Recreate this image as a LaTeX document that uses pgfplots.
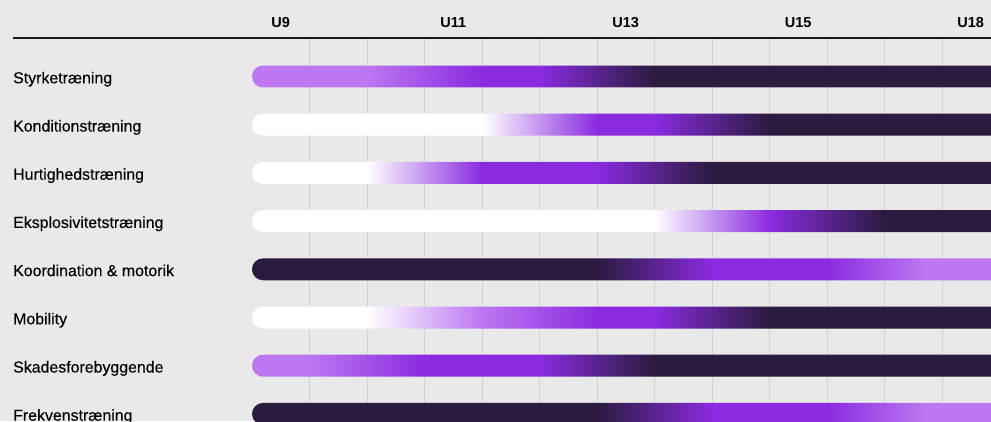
\documentclass[border=0pt]{standalone}
\usepackage{pgfplots}
\pgfplotsset{compat=1.18}
\usepackage{fontspec}
\setmainfont{Liberation Sans}
\newfontfamily\labelfont{Liberation Sans}[FakeBold=0.25]
\definecolor{bg}{HTML}{E9E9E9}
\definecolor{dk}{HTML}{2A1B3F}
\definecolor{pu}{HTML}{8A2BE0}
\definecolor{lp}{HTML}{BC77F1}
\definecolor{gr}{HTML}{D2D2D2}
% Each bar runs from column 0 to column 25 (clipped at the right edge).
% Shading position in bp = 25 + 2 * column.
% Styrketraening: lp to col 2, pu at 4, pu to 5, dark at 7
\pgfdeclarehorizontalshading{r1}{100bp}{color(0bp)=(lp); color(29bp)=(lp); color(33bp)=(pu); color(35bp)=(pu); color(39bp)=(dk); color(100bp)=(dk)}
% Konditionstraening: white to 4, pu at 6, pu to 7, dark at 9
\pgfdeclarehorizontalshading{r2}{100bp}{color(0bp)=(white); color(33bp)=(white); color(37bp)=(pu); color(39bp)=(pu); color(43bp)=(dk); color(100bp)=(dk)}
% Hurtighedstraening: white to 2, pu at 4, pu to 6, dark at 8
\pgfdeclarehorizontalshading{r3}{100bp}{color(0bp)=(white); color(29bp)=(white); color(33bp)=(pu); color(37bp)=(pu); color(41bp)=(dk); color(100bp)=(dk)}
% Eksplosivitetstraening: white to 7, pu at 9, dark at 11
\pgfdeclarehorizontalshading{r4}{100bp}{color(0bp)=(white); color(39bp)=(white); color(43bp)=(pu); color(47bp)=(dk); color(100bp)=(dk)}
% Koordination & motorik / Frekvenstraening: dark to 6, pu at 8, pu to 10, lp at 11.7
\pgfdeclarehorizontalshading{r5}{100bp}{color(0bp)=(dk); color(37bp)=(dk); color(41bp)=(pu); color(45bp)=(pu); color(48.4bp)=(lp); color(100bp)=(lp)}
% Mobility: white to 2, lp at 4, pu at 6, pu to 7, dark at 9
\pgfdeclarehorizontalshading{r6}{100bp}{color(0bp)=(white); color(29bp)=(white); color(33bp)=(lp); color(37bp)=(pu); color(39bp)=(pu); color(43bp)=(dk); color(100bp)=(dk)}
% Skadesforebyggende: lp to 1, pu at 3, pu to 5, dark at 7
\pgfdeclarehorizontalshading{r7}{100bp}{color(0bp)=(lp); color(27bp)=(lp); color(31bp)=(pu); color(35bp)=(pu); color(39bp)=(dk); color(100bp)=(dk)}
% one bar: row, shading
\newcommand\rowbar[2]{%
  \pgfmathsetmacro\ylo{#1-0.228}\pgfmathsetmacro\yhi{#1+0.228}%
  \edef\next{\noexpand\addplot[draw=none,mark=none,shade,shading=#2,rounded corners=11pt] coordinates {(25,\ylo) (0,\ylo) (0,\yhi) (25,\yhi)};}\next}
\begin{document}
\begin{tikzpicture}
\useasboundingbox (0pt,0pt) rectangle (991pt,421pt);
\fill[bg] (0pt,0pt) rectangle (991pt,421pt);
\begin{axis}[
  at={(252pt,0pt)}, anchor=south west, scale only axis,
  width=739pt, height=382.7pt,
  xmin=0, xmax=12.852, ymin=0.2075, ymax=8.147, y dir=reverse,
  clip=true, axis line style={draw=none},
  major tick length=0pt, minor tick length=0pt, tick style={draw=none},
  xtick={0.5,3.5,6.5,9.5,12.5},
  xticklabels={U9,U11,U13,U15,U18},
  xticklabel pos=upper,
  xticklabel style={anchor=base, inner sep=0pt, yshift=10.3pt, font=\fontsize{14.5}{16}\selectfont\bfseries},
  minor xtick={1,2,...,12}, xminorgrids=true, xmajorgrids=false,
  minor grid style={draw=gr, line width=1pt},
  ytick={1,2,...,8},
  yticklabels={Styrketræning,Konditionstræning,Hurtighedstræning,Eksplosivitetstræning,Koordination \& motorik,Mobility,Skadesforebyggende,Frekvenstræning},
  yticklabel style={anchor=base west, inner sep=0pt, xshift=-239pt, yshift=-6.8pt, font=\labelfont\fontsize{15.9}{18}\selectfont},
]
\rowbar{1}{r1}
\rowbar{2}{r2}
\rowbar{3}{r3}
\rowbar{4}{r4}
\rowbar{5}{r5}
\rowbar{6}{r6}
\rowbar{7}{r7}
\rowbar{8}{r5}
\end{axis}
\draw[line width=1.6pt, color=black!90] (13pt,382.7pt) -- (991pt,382.7pt);
\end{tikzpicture}
\end{document}
